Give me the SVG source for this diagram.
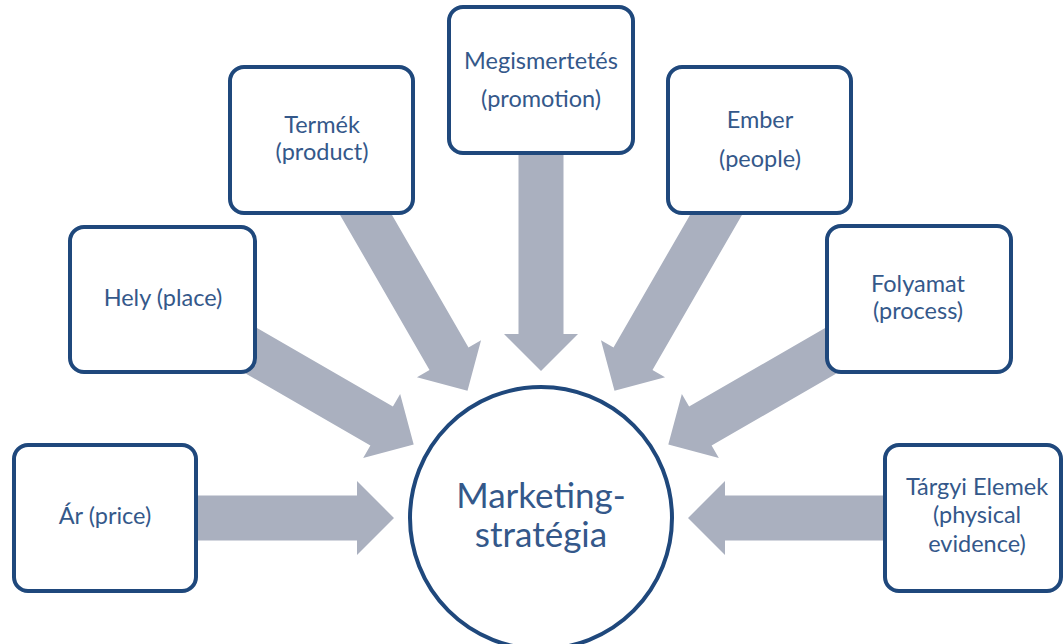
<svg xmlns="http://www.w3.org/2000/svg" width="1064" height="644" viewBox="0 0 1064 644">
<defs>
<style>
.box{fill:#ffffff;stroke:#1f487c;stroke-width:4}
.arrow{fill:#aab0bf}
.t{font-family:Lato,"Open Sans","Liberation Sans",sans-serif;font-size:23.5px;fill:#34588a;text-anchor:middle}
.big{font-size:35px}
</style>
<path id="arr" d="M518.5,138 L563.5,138 L563.5,334 L578,334 L541,371 L504,334 L518.5,334 Z"/>
</defs>
<rect width="1064" height="644" fill="#ffffff"/>
<g id="connectors" class="arrow">
<use href="#arr" transform="rotate(-90 541 518)"/>
<use href="#arr" transform="rotate(-60 541 518)"/>
<use href="#arr" transform="rotate(-30 541 518)"/>
<use href="#arr"/>
<use href="#arr" transform="rotate(30 541 518)"/>
<use href="#arr" transform="rotate(60 541 518)"/>
<use href="#arr" transform="rotate(90 541 518)"/>
</g>
<g id="node-center">
<circle class="box" cx="541" cy="518" r="131"/>
<text class="t big" x="541" y="508">Marketing-</text>
<text class="t big" x="541" y="547">stratégia</text>
</g>
<g id="node-ar">
<rect class="box" x="14" y="445" width="182" height="146" rx="14"/>
<text class="t" x="105" y="524">Ár (price)</text>
</g>
<g id="node-hely">
<rect class="box" x="70" y="227" width="185" height="145" rx="14"/>
<text class="t" x="163" y="306">Hely (place)</text>
</g>
<g id="node-termek">
<rect class="box" x="230" y="67" width="183" height="146" rx="14"/>
<text class="t" x="322" y="133">Termék</text>
<text class="t" x="322" y="160">(product)</text>
</g>
<g id="node-megismertetes">
<rect class="box" x="449" y="7" width="184" height="146" rx="14"/>
<text class="t" x="541" y="69">Megismertetés</text>
<text class="t" x="541" y="107">(promotion)</text>
</g>
<g id="node-ember">
<rect class="box" x="668" y="67" width="183" height="146" rx="14"/>
<text class="t" x="760" y="128">Ember</text>
<text class="t" x="760" y="167">(people)</text>
</g>
<g id="node-folyamat">
<rect class="box" x="827" y="226" width="184" height="146" rx="14"/>
<text class="t" x="918" y="292">Folyamat</text>
<text class="t" x="918" y="319">(process)</text>
</g>
<g id="node-targyi">
<rect class="box" x="885" y="445" width="176" height="146" rx="14"/>
<text class="t" x="977" y="495">Tárgyi Elemek</text>
<text class="t" x="977" y="523">(physical</text>
<text class="t" x="977" y="552">evidence)</text>
</g>
</svg>
